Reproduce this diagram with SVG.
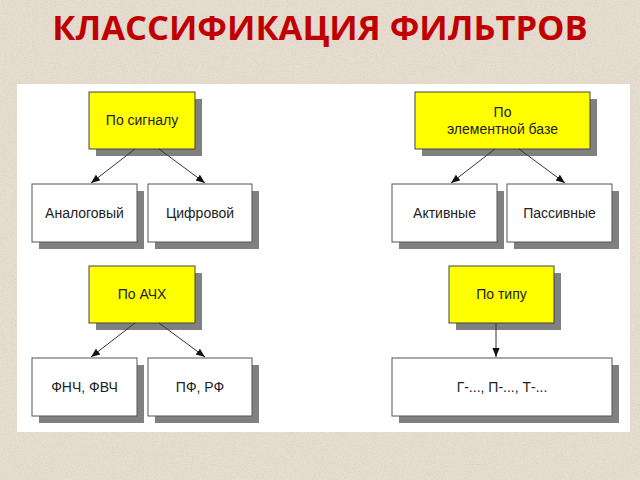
<svg xmlns="http://www.w3.org/2000/svg" width="640" height="480" viewBox="0 0 640 480">
<defs>
<filter id="grain" x="0" y="0" width="100%" height="100%">
<feTurbulence type="fractalNoise" baseFrequency="0.9" numOctaves="2" seed="3" result="n"/>
<feColorMatrix in="n" type="matrix" values="0 0 0 0 0.55  0 0 0 0 0.5  0 0 0 0 0.42  0 0 0 -1.6 0.9" result="dots"/>
<feComposite in="dots" in2="SourceGraphic" operator="in"/>
</filter>
<marker id="ah" viewBox="0 0 10 10" refX="10" refY="5" markerWidth="9" markerHeight="9" markerUnits="userSpaceOnUse" orient="auto">
<path d="M0,1 L10,5 L0,9 Z" fill="#111"/>
</marker>
</defs>
<style>
.sh{fill:#808080}
.y{fill:#ffff00;stroke:#444;stroke-width:1}
.w{fill:#ffffff;stroke:#555;stroke-width:1}
.t{font-family:"Liberation Sans",Arial,sans-serif;font-size:14px;fill:#222;text-anchor:middle}
.c{stroke:#333;stroke-width:1;fill:none;marker-end:url(#ah)}
</style>
<rect x="0" y="0" width="640" height="480" fill="#e6ddd0"/>
<rect x="0" y="0" width="640" height="480" fill="#e6ddd0" filter="url(#grain)" opacity="0.5"/>
<text x="320" y="40" text-anchor="middle" font-family="'Open Sans','DejaVu Sans',sans-serif" font-weight="bold" font-size="34.5" fill="#c00000">КЛАССИФИКАЦИЯ ФИЛЬТРОВ</text>
<rect x="17" y="84" width="613" height="348" fill="#ffffff"/>

<g id="n-signal"><rect class="sh" x="96" y="99" width="106" height="57"/><rect class="y" x="89" y="92" width="106" height="57"/><text class="t" x="142" y="125">По сигналу</text></g>
<g id="n-analog"><rect class="sh" x="39" y="191" width="105" height="58"/><rect class="w" x="32" y="184" width="105" height="58"/><text class="t" x="84.5" y="218">Аналоговый</text></g>
<g id="n-digital"><rect class="sh" x="155" y="191" width="104" height="58"/><rect class="w" x="148" y="184" width="104" height="58"/><text class="t" x="200" y="218">Цифровой</text></g>

<g id="n-base"><rect class="sh" x="422" y="99" width="175" height="57"/><rect class="y" x="415" y="92" width="175" height="57"/><text class="t" x="502.5" y="117">По</text><text class="t" x="502.5" y="134">элементной базе</text></g>
<g id="n-active"><rect class="sh" x="399" y="191" width="105" height="58"/><rect class="w" x="392" y="184" width="105" height="58"/><text class="t" x="444.5" y="218">Активные</text></g>
<g id="n-passive"><rect class="sh" x="514" y="191" width="105" height="58"/><rect class="w" x="507" y="184" width="105" height="58"/><text class="t" x="559.5" y="218">Пассивные</text></g>

<g id="n-afc"><rect class="sh" x="96" y="273" width="106" height="57"/><rect class="y" x="89" y="266" width="106" height="57"/><text class="t" x="142" y="299">По АЧХ</text></g>
<g id="n-lpf"><rect class="sh" x="39" y="365" width="105" height="58"/><rect class="w" x="32" y="358" width="105" height="58"/><text class="t" x="84.5" y="392">ФНЧ, ФВЧ</text></g>
<g id="n-bpf"><rect class="sh" x="155" y="365" width="104" height="58"/><rect class="w" x="148" y="358" width="104" height="58"/><text class="t" x="200" y="392">ПФ, РФ</text></g>

<g id="n-type"><rect class="sh" x="456" y="273" width="105" height="57"/><rect class="y" x="449" y="266" width="105" height="57"/><text class="t" x="501.5" y="299">По типу</text></g>
<g id="n-types"><rect class="sh" x="399" y="365" width="220" height="58"/><rect class="w" x="392" y="358" width="220" height="58"/><text class="t" x="502" y="392">Г-..., П-..., Т-...</text></g>

<g id="connectors">
<line class="c" x1="135" y1="149" x2="91" y2="183"/>
<line class="c" x1="159" y1="149" x2="205" y2="183"/>
<line class="c" x1="495" y1="149" x2="451" y2="183"/>
<line class="c" x1="519" y1="149" x2="565" y2="183"/>
<line class="c" x1="135" y1="323" x2="91" y2="357"/>
<line class="c" x1="159" y1="323" x2="205" y2="357"/>
<line class="c" x1="496" y1="323" x2="496" y2="357"/>
</g>
</svg>
